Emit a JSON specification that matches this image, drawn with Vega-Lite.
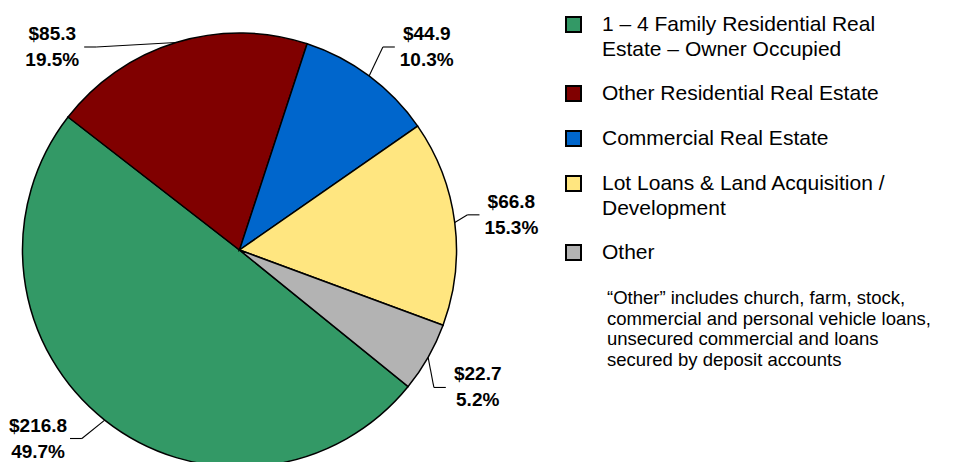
{
  "$schema": "https://vega.github.io/schema/vega-lite/v6.json",
  "width": 479,
  "height": 500,
  "padding": 0,
  "background": "white",
  "config": {"view": {"stroke": null}},
  "data": {
    "values": [
      {"category": "1 – 4 Family Residential Real Estate – Owner Occupied", "value": 216.8, "pct": 49.7, "order": 1},
      {"category": "Other Residential Real Estate", "value": 85.3, "pct": 19.5, "order": 2},
      {"category": "Commercial Real Estate", "value": 44.9, "pct": 10.3, "order": 3},
      {"category": "Lot Loans & Land Acquisition / Development", "value": 66.8, "pct": 15.3, "order": 4},
      {"category": "Other", "value": 22.7, "pct": 5.2, "order": 5}
    ]
  },
  "transform": [
    {"joinaggregate": [{"op": "sum", "field": "value", "as": "total"}]},
    {"stack": "value", "groupby": [], "sort": [{"field": "order", "order": "ascending"}], "as": ["v0", "v1"]},
    {"calculate": "129*PI/180 + PI*(datum.v0+datum.v1)/datum.total", "as": "mid"},
    {"calculate": "1.281*cos(datum.mid) > 0.9355 ? (sin(datum.mid) >= 0 ? acos(0.9355/1.281) : 2*PI - acos(0.9355/1.281)) : (1.281*cos(datum.mid) < -0.8687 ? (sin(datum.mid) >= 0 ? PI - acos(0.8687/1.281) : PI + acos(0.8687/1.281)) : datum.mid)", "as": "la"},
    {"calculate": "1.263*sin(datum.la)", "as": "lx"},
    {"calculate": "1.281*cos(datum.la)", "as": "ly"},
    {"calculate": "sin(datum.mid)", "as": "ex"},
    {"calculate": "cos(datum.mid)", "as": "ey"},
    {"calculate": "datum.lx + (datum.lx > 0 ? -0.147 : 0.147)", "as": "sx"},
    {"calculate": "datum.sx + (datum.lx > 0 ? -0.055 : 0.055)", "as": "bx"},
    {"calculate": "['$' + format(datum.value, '.1f'), format(datum.pct, '.1f') + '%']", "as": "lbl"}
  ],
  "layer": [
    {
      "mark": {"type": "arc", "outerRadius": 217, "stroke": "black", "strokeWidth": 1.5},
      "encoding": {
        "theta": {"field": "value", "type": "quantitative", "stack": true, "scale": {"range": [2.2515, 8.5347]}},
        "order": {"field": "order", "type": "quantitative"},
        "color": {
          "field": "category",
          "type": "nominal",
          "scale": {
            "domain": ["1 – 4 Family Residential Real Estate – Owner Occupied", "Other Residential Real Estate", "Commercial Real Estate", "Lot Loans & Land Acquisition / Development", "Other"],
            "range": ["#339966", "#800000", "#0066CC", "#FFE680", "#B3B3B3"]
          },
          "legend": {
            "orient": "none",
            "legendX": 563,
            "legendY": 14,
            "padding": 0,
            "title": ["“Other” includes church, farm, stock,", "commercial and personal vehicle loans,", "unsecured commercial and loans", "secured by deposit accounts"],
            "titleOrient": "bottom",
            "titleAnchor": "start",
            "titleAlign": "left",
            "titleBaseline": "top",
            "titleFont": "Liberation Sans",
            "titleFontSize": 18.5,
            "titleFontWeight": "normal",
            "titleLineHeight": 20.5,
            "titleColor": "black",
            "titlePadding": 25,
            "titleLimit": 0,
            "symbolType": "square",
            "symbolSize": 225,
            "symbolStrokeColor": "black",
            "symbolStrokeWidth": 2,
            "labelFont": "Liberation Sans",
            "labelFontSize": 21,
            "labelColor": "black",
            "labelOffset": 18,
            "labelLimit": 0,
            "labelBaseline": "top",
            "rowPadding": 22,
            "labelExpr": "datum.label == '1 – 4 Family Residential Real Estate – Owner Occupied' ? ['1 – 4 Family Residential Real', 'Estate – Owner Occupied'] : (datum.label == 'Lot Loans & Land Acquisition / Development' ? ['Lot Loans & Land Acquisition /', 'Development'] : datum.label)",
            "encode": {
              "labels": {"update": {"dy": {"value": -11}, "lineHeight": {"value": 25}}},
              "title": {"update": {"dx": {"value": 44}}}
            }
          }
        }
      }
    },
    {
      "mark": {"type": "rule", "color": "black", "strokeWidth": 1.1},
      "encoding": {
        "x": {"field": "ex", "type": "quantitative", "scale": {"domain": [-1.10369, 1.10369], "nice": false, "zero": false}, "axis": null},
        "y": {"field": "ey", "type": "quantitative", "scale": {"domain": [-1.15207, 1.15207], "nice": false, "zero": false}, "axis": null},
        "x2": {"field": "bx"},
        "y2": {"field": "ly"}
      }
    },
    {
      "mark": {"type": "rule", "color": "black", "strokeWidth": 1.1},
      "encoding": {
        "x": {"field": "bx", "type": "quantitative", "scale": {"domain": [-1.10369, 1.10369], "nice": false, "zero": false}, "axis": null},
        "y": {"field": "ly", "type": "quantitative", "scale": {"domain": [-1.15207, 1.15207], "nice": false, "zero": false}, "axis": null},
        "x2": {"field": "sx"},
        "y2": {"field": "ly"}
      }
    },
    {
      "mark": {"type": "text", "font": "Liberation Sans", "fontSize": 19, "fontWeight": "bold", "lineHeight": 26, "align": "center", "baseline": "middle", "dy": -13, "color": "black"},
      "encoding": {
        "x": {"field": "lx", "type": "quantitative", "scale": {"domain": [-1.10369, 1.10369], "nice": false, "zero": false}, "axis": null},
        "y": {"field": "ly", "type": "quantitative", "scale": {"domain": [-1.15207, 1.15207], "nice": false, "zero": false}, "axis": null},
        "text": {"field": "lbl", "type": "nominal"}
      }
    }
  ]
}
